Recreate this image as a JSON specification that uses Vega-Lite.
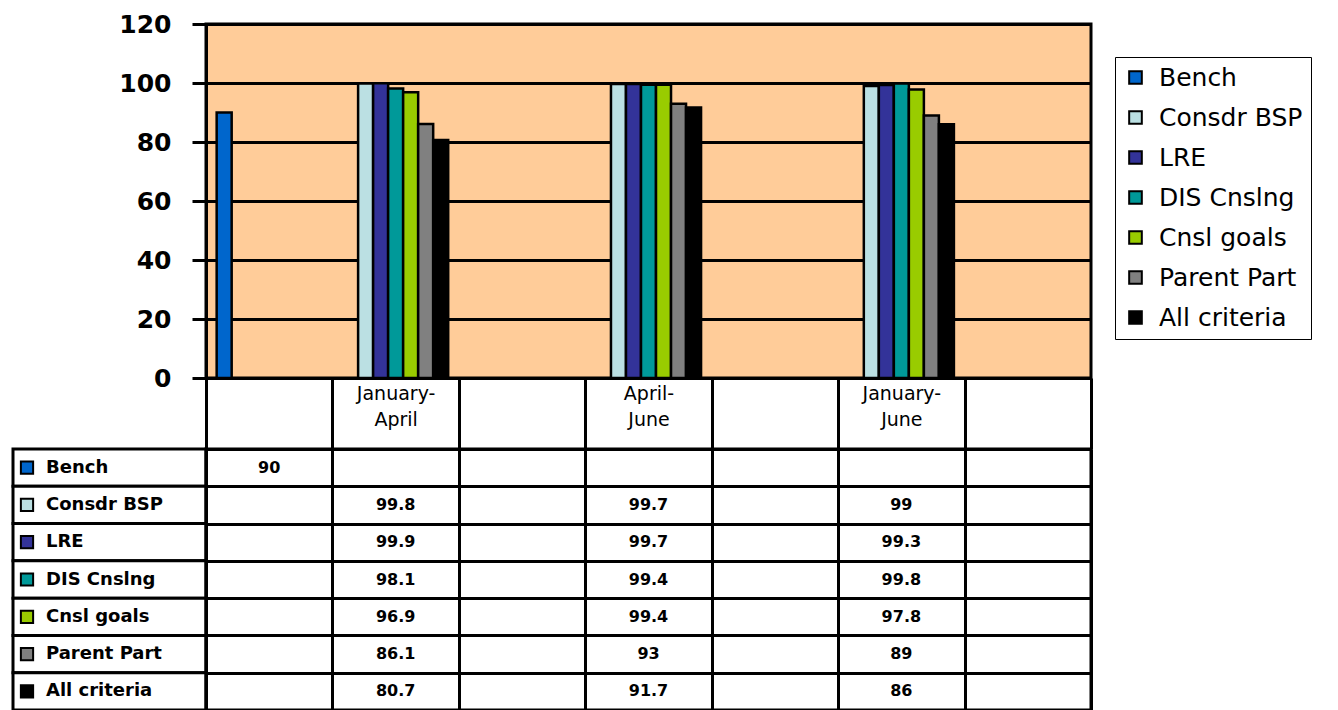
{
  "$schema": "https://vega.github.io/schema/vega-lite/v6.json",
  "padding": {"top": 10, "left": 11, "right": 0, "bottom": 0},
  "background": "white",
  "config": {
    "view": {"stroke": null},
    "font": "DejaVu Sans",
    "axis": {"labelFont": "DejaVu Sans", "labelColor": "black"},
    "legend": {"labelFont": "DejaVu Sans"},
    "text": {"font": "DejaVu Sans"}
  },
  "datasets": {
    "series": [
      {"series": "Bench"},
      {"series": "Consdr BSP"},
      {"series": "LRE"},
      {"series": "DIS  Cnslng"},
      {"series": "Cnsl goals"},
      {"series": "Parent Part"},
      {"series": "All criteria"}
    ],
    "values": [
      {"period": " ", "series": "Bench", "value": 90},
      {"period": "January-April", "series": "Consdr BSP", "value": 99.8},
      {"period": "January-April", "series": "LRE", "value": 99.9},
      {"period": "January-April", "series": "DIS  Cnslng", "value": 98.1},
      {"period": "January-April", "series": "Cnsl goals", "value": 96.9},
      {"period": "January-April", "series": "Parent Part", "value": 86.1},
      {"period": "January-April", "series": "All criteria", "value": 80.7},
      {"period": "April-June", "series": "Consdr BSP", "value": 99.7},
      {"period": "April-June", "series": "LRE", "value": 99.7},
      {"period": "April-June", "series": "DIS  Cnslng", "value": 99.4},
      {"period": "April-June", "series": "Cnsl goals", "value": 99.4},
      {"period": "April-June", "series": "Parent Part", "value": 93},
      {"period": "April-June", "series": "All criteria", "value": 91.7},
      {"period": "January-June", "series": "Consdr BSP", "value": 99},
      {"period": "January-June", "series": "LRE", "value": 99.3},
      {"period": "January-June", "series": "DIS  Cnslng", "value": 99.8},
      {"period": "January-June", "series": "Cnsl goals", "value": 97.8},
      {"period": "January-June", "series": "Parent Part", "value": 89},
      {"period": "January-June", "series": "All criteria", "value": 86}
    ]
  },
  "columns": 2,
  "spacing": {"row": 71, "column": 0},
  "bounds": "flush",
  "resolve": {
    "scale": {"x": "independent", "y": "independent", "color": "independent"},
    "legend": {"color": "independent"}
  },
  "concat": [
    {
      "width": 193,
      "height": 354,
      "data": {"values": []},
      "mark": {"type": "point", "opacity": 0},
      "encoding": {}
    },
    {
      "width": 885,
      "height": 354,
      "view": {"fill": "#FFCC99", "stroke": "black", "strokeWidth": 3},
      "data": {"name": "values"},
      "mark": {"type": "bar", "stroke": "black", "strokeWidth": 2.5},
      "encoding": {
        "x": {
          "field": "period",
          "type": "nominal",
          "sort": null,
          "scale": {
            "domain": [" ", "January-April", "  ", "April-June", "   ", "January-June", "    "],
            "paddingInner": 0,
            "paddingOuter": 0
          },
          "axis": {
            "title": null,
            "tickBand": "extent",
            "tickSize": 71,
            "tickWidth": 3,
            "tickColor": "black",
            "domainColor": "black",
            "domainWidth": 3,
            "labelAngle": 0,
            "labelPadding": -65,
            "labelBaseline": "top",
            "labelFontSize": 19,
            "labelLineHeight": 26,
            "labelOverlap": false,
            "labelExpr": "split(replace(datum.label, '-', '-|'), '|')"
          }
        },
        "xOffset": {
          "field": "series",
          "type": "nominal",
          "scale": {
            "domain": ["Bench", "Consdr BSP", "LRE", "DIS  Cnslng", "Cnsl goals", "Parent Part", "All criteria"],
            "paddingInner": 0,
            "paddingOuter": 0.71
          }
        },
        "y": {
          "field": "value",
          "type": "quantitative",
          "scale": {"domain": [0, 120]},
          "axis": {
            "title": null,
            "values": [0, 20, 40, 60, 80, 100, 120],
            "grid": true,
            "gridColor": "black",
            "gridWidth": 3,
            "gridOpacity": 1,
            "domainColor": "black",
            "domainWidth": 3,
            "tickColor": "black",
            "tickWidth": 3,
            "tickSize": 14,
            "labelFontSize": 25,
            "labelFontWeight": "bold",
            "labelPadding": 21
          }
        },
        "color": {
          "field": "series",
          "type": "nominal",
          "scale": {
            "domain": ["Bench", "Consdr BSP", "LRE", "DIS  Cnslng", "Cnsl goals", "Parent Part", "All criteria"],
            "range": ["#0066CC", "#BBE0E3", "#333399", "#009999", "#99CC00", "#808080", "#000000"]
          },
          "legend": {
            "title": null,
            "orient": "none",
            "legendX": 909,
            "legendY": 33,
            "symbolType": "square",
            "symbolSize": 160,
            "symbolStrokeColor": "black",
            "symbolStrokeWidth": 2,
            "symbolOpacity": 1,
            "labelFontSize": 25,
            "labelColor": "black",
            "labelOffset": 11,
            "labelLimit": 400,
            "rowPadding": 14,
            "padding": 8,
            "fillColor": "white",
            "strokeColor": "black"
          }
        }
      }
    },
    {
      "width": 193,
      "height": 261,
      "data": {"name": "series"},
      "encoding": {
        "y": {
          "field": "series",
          "type": "nominal",
          "sort": null,
          "scale": {
            "domain": ["Bench", "Consdr BSP", "LRE", "DIS  Cnslng", "Cnsl goals", "Parent Part", "All criteria"],
            "paddingInner": 0,
            "paddingOuter": 0
          },
          "axis": null
        }
      },
      "layer": [
        {"mark": {"type": "rect", "fill": "white", "stroke": "black", "strokeWidth": 3}},
        {
          "mark": {"type": "point", "shape": "square", "filled": true, "size": 150, "stroke": "black", "strokeWidth": 2, "opacity": 1, "x": 14},
          "encoding": {
            "color": {
              "field": "series",
              "type": "nominal",
              "scale": {
                "domain": ["Bench", "Consdr BSP", "LRE", "DIS  Cnslng", "Cnsl goals", "Parent Part", "All criteria"],
                "range": ["#0066CC", "#BBE0E3", "#333399", "#009999", "#99CC00", "#808080", "#000000"]
              },
              "legend": null
            }
          }
        },
        {
          "mark": {"type": "text", "x": 33, "align": "left", "baseline": "middle", "fontSize": 18, "fontWeight": "bold", "color": "black"},
          "encoding": {"text": {"field": "series", "type": "nominal"}}
        }
      ]
    },
    {
      "width": 885,
      "height": 261,
      "view": {"stroke": "black", "strokeWidth": 3},
      "data": {"name": "values"},
      "mark": {"type": "text", "fontSize": 16, "fontWeight": "bold", "color": "black", "baseline": "middle"},
      "encoding": {
        "x": {
          "field": "period",
          "type": "nominal",
          "sort": null,
          "scale": {
            "domain": [" ", "January-April", "  ", "April-June", "   ", "January-June", "    "],
            "paddingInner": 0,
            "paddingOuter": 0
          },
          "axis": {"title": null, "labels": false, "ticks": false, "domain": false, "grid": true, "tickBand": "extent", "gridColor": "black", "gridWidth": 3, "gridOpacity": 1}
        },
        "y": {
          "field": "series",
          "type": "nominal",
          "sort": null,
          "scale": {
            "domain": ["Bench", "Consdr BSP", "LRE", "DIS  Cnslng", "Cnsl goals", "Parent Part", "All criteria"],
            "paddingInner": 0,
            "paddingOuter": 0
          },
          "axis": {"title": null, "labels": false, "ticks": false, "domain": false, "grid": true, "tickBand": "extent", "gridColor": "black", "gridWidth": 3, "gridOpacity": 1}
        },
        "text": {"field": "value", "type": "nominal"}
      }
    }
  ]
}
